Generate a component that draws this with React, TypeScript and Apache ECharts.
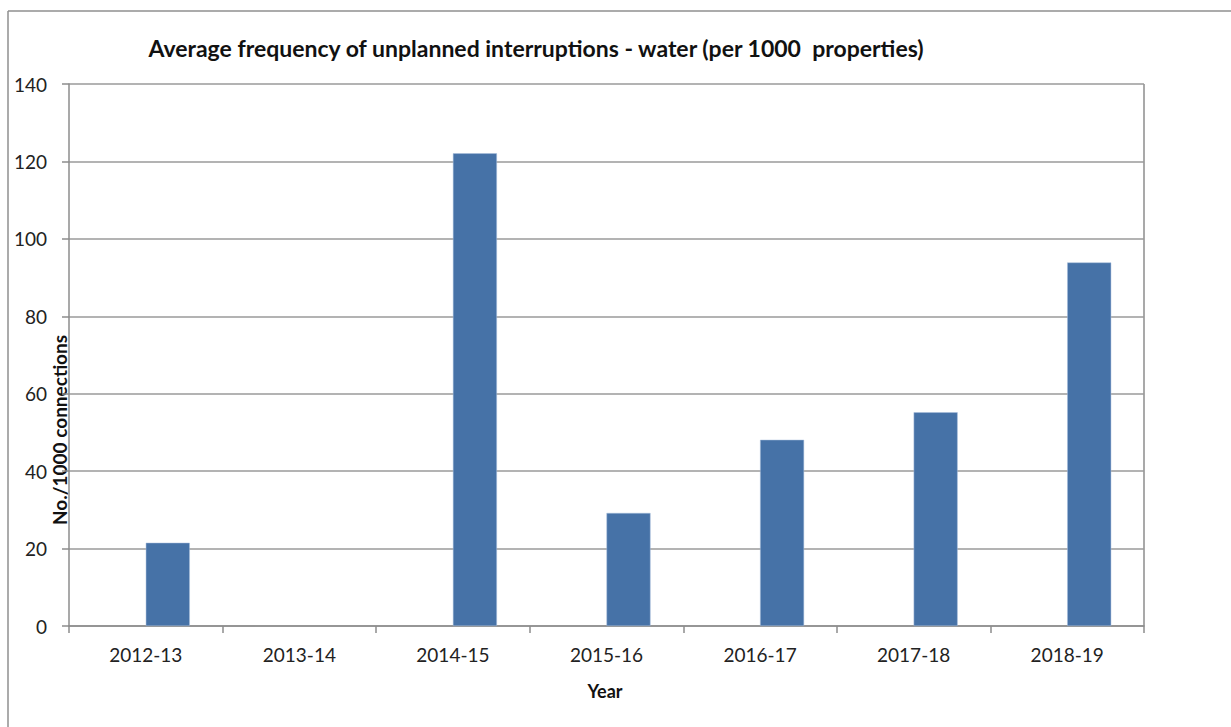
import React, { useEffect, useRef } from "react";
import * as echarts from "echarts";

const categories = ["2012-13", "2013-14", "2014-15", "2015-16", "2016-17", "2017-18", "2018-19"];
// Excel-style clustered chart: an empty first series pushes the bars right of the category centre
const emptySeries: (number | null)[] = [null, null, null, null, null, null, null];
const values: (number | null)[] = [21.5, null, 122.1, 29.2, 48.1, 55.2, 93.9];
const yTicks = { min: 0, max: 140, interval: 20 };
const titleText = "Average frequency of unplanned interruptions - water (per 1000  properties)";
const yAxisTitle = "No./1000 connections";
const xAxisTitle = "Year";

export default function App() {
  const ref = useRef<HTMLDivElement>(null);
  useEffect(() => {
    if (!ref.current) return;
    const chart = echarts.init(ref.current, null, { renderer: "svg" });
    chart.setOption({
      animation: false,
      backgroundColor: "#ffffff",
      title: {
        text: titleText,
        left: 531,
        top: 31,
        textAlign: "center",
        textStyle: { fontFamily: "Lato", fontWeight: "bold", fontSize: 23, color: "#111" },
      },
      grid: { left: 69, right: 87, top: 84, bottom: 101, containLabel: false },
      xAxis: {
        type: "category",
        data: categories,
        boundaryGap: true,
        axisLine: { lineStyle: { color: "#8c8c8c", width: 1.5 } },
        axisTick: { show: true, length: 7, lineStyle: { color: "#8c8c8c", width: 1.5 } },
        axisLabel: { margin: 19, fontFamily: "Lato", fontSize: 19, color: "#222" },
      },
      yAxis: {
        type: "value",
        min: yTicks.min,
        max: yTicks.max,
        interval: yTicks.interval,
        axisLine: { show: true, lineStyle: { color: "#8c8c8c", width: 1.5 } },
        axisTick: { show: true, length: 7, lineStyle: { color: "#8c8c8c", width: 1.5 } },
        axisLabel: { margin: 22, fontFamily: "Lato", fontSize: 19, color: "#222" },
        splitLine: { show: true, lineStyle: { color: "#9a9a9a", width: 1.5 } },
      },
      series: [
        {
          type: "bar",
          data: emptySeries,
          barWidth: 44,
          barGap: "0%",
          itemStyle: { color: "#4672a7" },
        },
        {
          type: "bar",
          data: values,
          barWidth: 44,
          barGap: "0%",
          itemStyle: { color: "#4672a7", borderColor: "#a9bfdc", borderWidth: 0.5 },
        },
      ],
      graphic: [
        { type: "line", shape: { x1: 8, y1: 11, x2: 1231, y2: 11 }, style: { stroke: "#8f8f8f", lineWidth: 1.5 } },
        { type: "line", shape: { x1: 8, y1: 11, x2: 8, y2: 727 }, style: { stroke: "#8f8f8f", lineWidth: 1.5 } },
        {
          type: "line",
          shape: { x1: 1144, y1: 84, x2: 1144, y2: 626 },
          style: { stroke: "#8c8c8c", lineWidth: 1.5 },
        },
        {
          type: "text",
          x: 59,
          y: 430,
          rotation: Math.PI / 2,
          style: {
            text: yAxisTitle,
            fontFamily: "Lato",
            fontWeight: "bold",
            fontSize: 19,
            fill: "#111",
            align: "center",
            verticalAlign: "middle",
          },
        },
        {
          type: "text",
          x: 605,
          y: 691,
          style: {
            text: xAxisTitle,
            fontFamily: "Lato",
            fontWeight: "bold",
            fontSize: 18,
            fill: "#111",
            align: "center",
            verticalAlign: "middle",
          },
        },
      ],
    });
    return () => chart.dispose();
  }, []);
  return (
    <div
      ref={ref}
      style={{ position: "fixed", left: 0, top: 0, width: 1231, height: 727, background: "#fff" }}
    />
  );
}
